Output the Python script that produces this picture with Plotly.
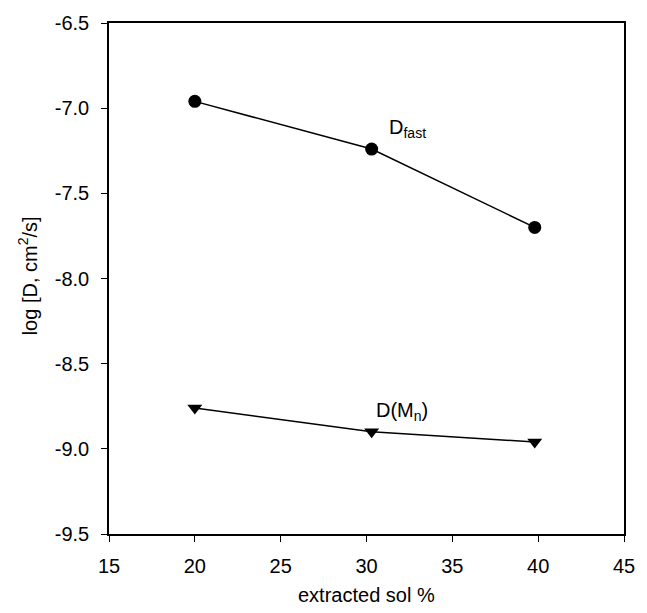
import plotly.graph_objects as go

sol = [20.0, 30.3, 39.8]
d_fast = [-6.96, -7.24, -7.70]
d_mn = [-8.76, -8.90, -8.96]

x_ticks = [15, 20, 25, 30, 35, 40, 45]
y_ticks = [-6.5, -7.0, -7.5, -8.0, -8.5, -9.0, -9.5]
y_tick_text = ["-6.5", "-7.0", "-7.5", "-8.0", "-8.5", "-9.0", "-9.5"]

FONT = "Liberation Sans, Arial, sans-serif"
TXT = dict(size=20, family=FONT, color="black")

fig = go.Figure()
fig.add_trace(go.Scatter(x=sol, y=d_fast, mode="lines+markers",
                         line=dict(color="black", width=1.5),
                         marker=dict(symbol="circle", size=13, color="black"),
                         showlegend=False))
fig.add_trace(go.Scatter(x=sol, y=d_mn, mode="lines+markers",
                         line=dict(color="black", width=1.5),
                         marker=dict(symbol="triangle-down", size=13, color="black"),
                         showlegend=False))

fig.add_annotation(x=31.2, y=-7.12, text="D<sub>fast</sub>", showarrow=False,
                   xanchor="left", yanchor="middle", font=TXT)
fig.add_annotation(x=30.45, y=-8.78, text="D(M<sub>n</sub>)", showarrow=False,
                   xanchor="left", yanchor="middle", font=TXT)

# axis titles
fig.add_annotation(xref="paper", yref="paper", x=0.5, y=-61 / 511, text="extracted sol %",
                   showarrow=False, xanchor="center", yanchor="middle", font=TXT)
fig.add_annotation(xref="paper", yref="paper", x=-82 / 524, y=0.505, text="log [D, cm<sup>2</sup>/s]",
                   showarrow=False, xanchor="center", yanchor="middle", textangle=-90, font=TXT)

axis_common = dict(showgrid=False, zeroline=False, showline=True, linecolor="black",
                   linewidth=1.5, mirror=True, ticks="outside", ticklen=6,
                   tickcolor="black", tickwidth=1.2, tickfont=TXT)

fig.update_xaxes(range=[15, 45], tickvals=x_ticks, ticklabelstandoff=7, **axis_common)
fig.update_yaxes(range=[-9.5, -6.5], tickvals=y_ticks, ticktext=y_tick_text,
                 ticklabelstandoff=8, **axis_common)

fig.update_layout(width=647, height=613, margin=dict(l=109, r=14, t=23, b=79),
                  plot_bgcolor="white", paper_bgcolor="white",
                  font=dict(family=FONT, color="black"))

fig.write_html("out.html")
